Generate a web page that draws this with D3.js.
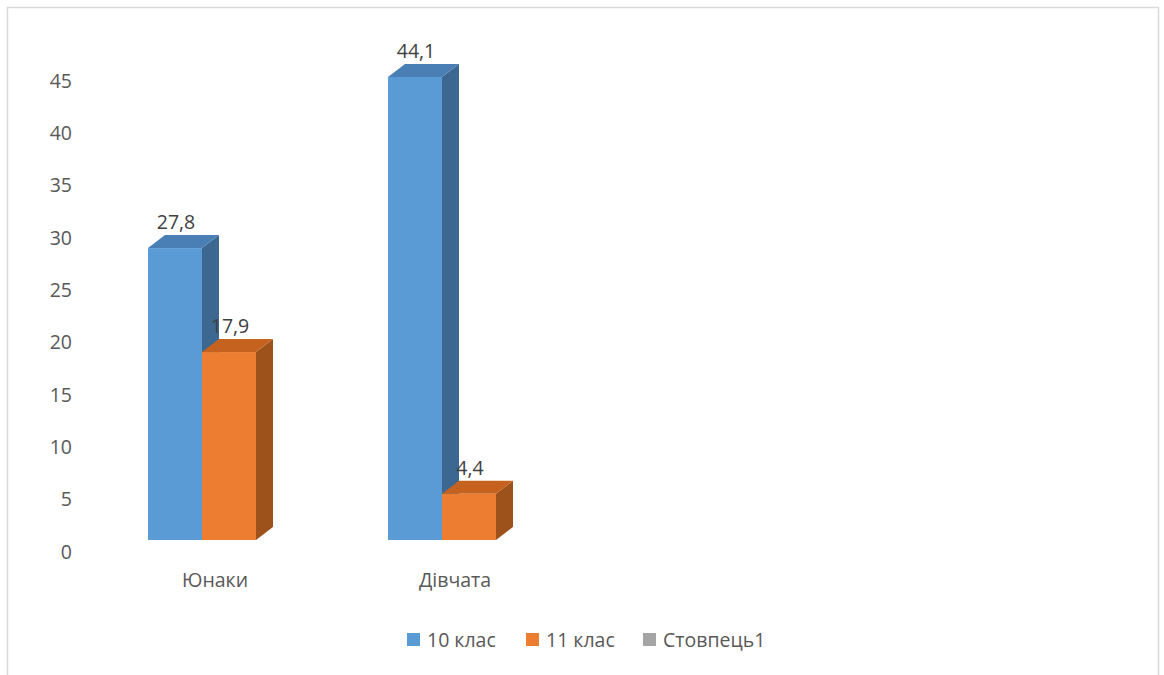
<!DOCTYPE html>
<html>
<head>
<meta charset="utf-8">
<script src="https://cdn.jsdelivr.net/npm/d3@7"></script>
<style>
  body { margin: 0; background: #fff; }
  svg text { font-family: "Open Sans", "Noto Sans", sans-serif; fill: #595959; }
</style>
</head>
<body>
<svg id="chart" width="1164" height="675"></svg>
<script>
let categories = ['Юнаки', 'Дівчата'],
	series = ['10 клас', '11 клас', 'Стовпець1'];
let values = [
	[27.8, 17.9, null],
	[44.1, 4.4, null]
];
let y_ticks = [0, 5, 10, 15, 20, 25, 30, 35, 40, 45];
let value_labels = [['27,8', '17,9', ''], ['44,1', '4,4', '']];

let colors = {
	front: ['#5b9bd5', '#ed7d31', '#a5a5a5'],
	top: ['#4a7fb6', '#c5621f', '#8c8c8c'],
	side: ['#3b6790', '#9e521b', '#777777']
};
let depth = {dx: 17, dy: -13};
let font_size = '19.5px';

let svg = d3.select('#chart');

// chart border
svg.append('rect')
	.attr('x', 7.5)
	.attr('y', 7.5)
	.attr('width', 1151)
	.attr('height', 700)
	.attr('fill', 'white')
	.attr('stroke', '#d9d9d9')
	.attr('stroke-width', 1.5);

// front face scale and axis label scale
let y_front = d3.scaleLinear().domain([0, 45]).range([540, 540 - 45 * 10.5]);
let y_axis = d3.scaleLinear().domain([0, 45]).range([552, 81]);

let x0 = d3.scaleBand().domain(categories).range([95, 575]);
let x1 = d3.scaleBand().domain(series).range([53, 215]);

// y axis labels
let yAxis = d3.axisLeft(y_axis).tickValues(y_ticks).tickSize(0).tickPadding(0);
let ag = svg.append('g')
	.attr('transform', 'translate(72,0)')
	.call(yAxis);
ag.select('.domain').remove();
ag.selectAll('text')
	.style('font-size', font_size)
	.attr('fill', '#595959');

// category labels
let xAxis = d3.axisBottom(x0).tickSize(0).tickPadding(0);
let cg = svg.append('g')
	.attr('transform', 'translate(0,573)')
	.call(xAxis);
cg.select('.domain').remove();
cg.selectAll('text')
	.style('font-size', font_size)
	.attr('fill', '#595959');

// bars
let bars = [];
categories.forEach((c, ci) => {
	series.forEach((s, si) => {
		if (values[ci][si] == null) return;
		bars.push({c: c, s: s, si: si, v: values[ci][si], label: value_labels[ci][si]});
	});
});

let barG = svg.append('g').attr('class', 'bars');
let barEnter = barG.selectAll('.bar3d')
	.data(bars)
	.enter()
	.append('g')
	.attr('class', 'bar3d');

let bx = d => x0(d.c) + x1(d.s),
	bw = x1.bandwidth();

// side face
barEnter.append('path')
	.attr('d', d => {
		let x = bx(d) + bw, yt = y_front(d.v), yb = y_front(0);
		return `M${x},${yt} L${x + depth.dx},${yt + depth.dy} L${x + depth.dx},${yb + depth.dy} L${x},${yb} Z`;
	})
	.attr('fill', d => colors.side[d.si]);

// top face
barEnter.append('path')
	.attr('d', d => {
		let x = bx(d), yt = y_front(d.v);
		return `M${x},${yt} L${x + depth.dx},${yt + depth.dy} L${x + bw + depth.dx},${yt + depth.dy} L${x + bw},${yt} Z`;
	})
	.attr('fill', d => colors.top[d.si]);

// front face
barEnter.append('rect')
	.attr('x', d => bx(d))
	.attr('y', d => y_front(d.v))
	.attr('width', bw)
	.attr('height', d => y_front(0) - y_front(d.v))
	.attr('fill', d => colors.front[d.si]);

// value labels
barEnter.append('text')
	.attr('x', d => bx(d) + bw / 2 + 1)
	.attr('y', d => y_front(d.v) + depth.dy - 6)
	.attr('text-anchor', 'middle')
	.style('font-size', font_size)
	.style('fill', '#404040')
	.text(d => d.label);

// legend
let legend_x = [407, 526, 643];
let lg = svg.append('g').attr('class', 'legend');
let item = lg.selectAll('.leg')
	.data(series)
	.enter()
	.append('g')
	.attr('class', 'leg')
	.attr('transform', (d, i) => `translate(${legend_x[i]}, 633)`);
item.append('rect')
	.attr('width', 13)
	.attr('height', 13)
	.attr('fill', (d, i) => colors.front[i]);
item.append('text')
	.attr('x', 20)
	.attr('y', 13.5)
	.style('font-size', font_size)
	.attr('fill', '#595959')
	.text(d => d);
</script>
</body>
</html>
